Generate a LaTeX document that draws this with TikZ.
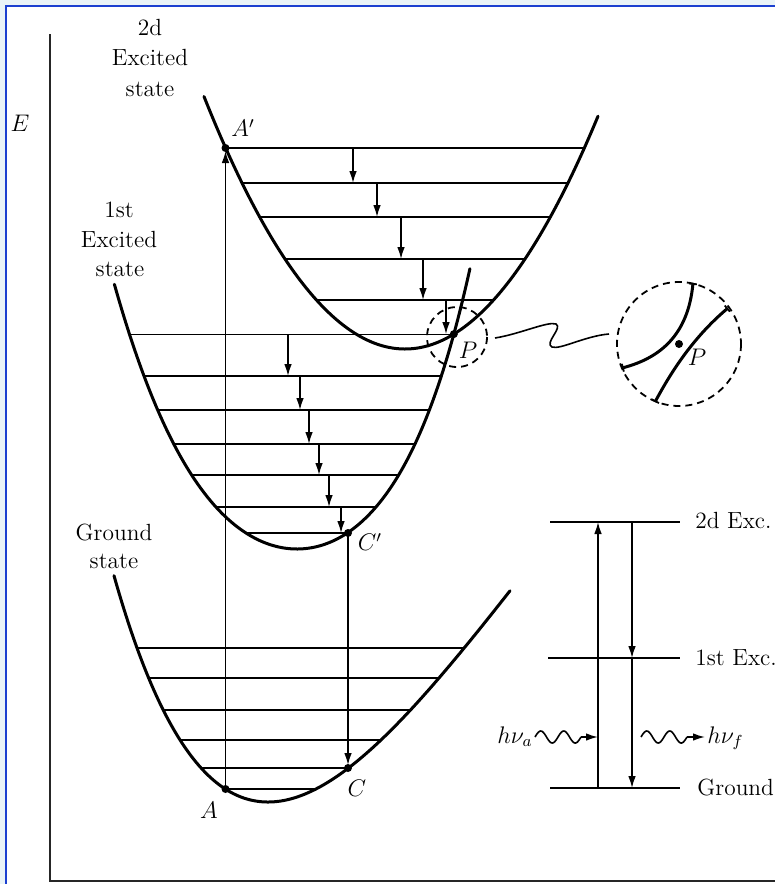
\documentclass[tikz,border=0pt]{standalone}
\usepackage{fontspec}
\usetikzlibrary{arrows.meta,intersections}
\definecolor{framebg}{RGB}{234,244,248}
\definecolor{frameblue}{RGB}{28,64,208}
\begin{document}
\begin{tikzpicture}[x=0.5pt,y=-0.5pt,
  lbl/.style={font=\fontsize{11.7}{14}\selectfont, inner sep=0pt},
  curve/.style={line width=1.5pt, line cap=round, line join=round},
  level/.style={line width=0.55pt},
  thicklevel/.style={line width=1.2pt},
  drop/.style={line width=0.7pt, -{Latex[length=6pt,width=3.8pt]}},
  trans/.style={line width=0.7pt, -{Latex[length=6pt,width=3.8pt]}},
  dotmark/.style={fill=black},
  dashcirc/.style={line width=0.9pt, dash pattern=on 3.5pt off 2.5pt},
  wave/.style={line width=0.8pt},
  ]
\useasboundingbox (0,0) rectangle (775,884);
\fill[framebg] (-5,-5) rectangle (780,890);
\fill[white] (6,6) rectangle (780,890);
\draw[frameblue, line width=1pt] (5.5,890) -- (5.5,5.5) -- (780,5.5);

% axis
\coordinate (Etop) at (50,34);
\coordinate (Ocorner) at (50,881);
\coordinate (Eright) at (780,881);
\draw[line width=1pt, black!85] (Etop) -- (Ocorner) -- (Eright);
\node[lbl] (Elbl) at (20,123) {$E$};

% state labels
\node[lbl, anchor=base] (s2a) at (150,35) {2d};
\node[lbl, anchor=base] (s2b) at (150,65) {Excited};
\node[lbl, anchor=base] (s2c) at (150,96) {state};
\node[lbl, anchor=base] (s1a) at (119,217) {1st};
\node[lbl, anchor=base] (s1b) at (119,247) {Excited};
\node[lbl, anchor=base] (s1c) at (120,276) {state};
\node[lbl, anchor=base] (s0a) at (114,540) {Ground};
\node[lbl, anchor=base] (s0b) at (114,568) {state};

% potential curve paths (for intersection)
\path[name path=c2] plot[domain=204:598, samples=160] (\x, {349-((\x-405)/10)^2/1.6});
\path[name path=c1] plot[domain=-1.76:1.80, samples=160]
  ({297-0.025*(60.4*\x*\x+8.09*\x*\x*\x*\x)+100*\x}, {549-(60.4*\x*\x+8.09*\x*\x*\x*\x)});
\path[name intersections={of=c2 and c1, by=P}];

% key points
\coordinate (Ap) at (225.5,148);
\coordinate (A) at (225.5,789);
\coordinate (Cp) at (348,533);
\coordinate (C) at (348,768);
\coordinate (L1left) at (130,0);

% vibrational levels: 2d excited
\draw[level] (Ap) -- (584.3,148);
\draw[level] (242,183) -- (568,183);
\draw[level] (259.7,217) -- (550.3,217);
\draw[level] (285,259) -- (525,259);
\draw[level] (316.5,300) -- (493.5,300);
% 1st excited
\draw[level] (P -| L1left) -- (P);
\draw[level] (144,376) -- (441.4,376);
\draw[level] (157.7,410) -- (429.3,410);
\draw[level] (173.8,444) -- (415,444);
\draw[level] (191.6,475) -- (398.7,475);
\draw[level] (215.9,507) -- (376,507);
\draw[level] (246,533) -- (Cp);
% ground
\draw[level] (136.9,648) -- (464.3,648);
\draw[level] (148.5,678) -- (439,678);
\draw[level] (163.1,710) -- (410.6,710);
\draw[level] (180,740) -- (381,740);
\draw[level] (201,768) -- (C);
\draw[level] (A) -- (315.8,789);

% relaxation arrows 2d excited
\draw[drop] (353,148) -- (353,183);
\draw[drop] (377,183) -- (377,217);
\draw[drop] (401,217) -- (401,259);
\draw[drop] (423,259) -- (423,300);
\coordinate (d5) at (446,300);
\draw[drop] (d5) -- (d5 |- P);
% relaxation arrows 1st excited
\coordinate (e1) at (288,376);
\draw[drop] (e1 |- P) -- (e1);
\draw[drop] (300,376) -- (300,410);
\draw[drop] (309,410) -- (309,444);
\draw[drop] (319,444) -- (319,475);
\draw[drop] (329,475) -- (329,507);
\draw[drop] (341,507) -- (341,533);

% vertical transitions
\draw[trans, shorten >=1.5pt] (A) -- (Ap);
\draw[trans, shorten >=1.5pt] (Cp) -- (C);

% potential curves
\draw[curve] plot[domain=204:598, samples=160] (\x, {349-((\x-405)/10)^2/1.6});
\draw[curve] plot[domain=-1.76:1.80, samples=160]
  ({297-0.025*(60.4*\x*\x+8.09*\x*\x*\x*\x)+100*\x}, {549-(60.4*\x*\x+8.09*\x*\x*\x*\x)});
\draw[curve] plot[domain=114:510, samples=160] (\x, {802-1024*(1-exp(-0.0025*(\x-268)))^2});

% dots
\fill[dotmark] (Ap) circle[radius=4];
\fill[dotmark] (A) circle[radius=4];
\fill[dotmark] (Cp) circle[radius=4];
\fill[dotmark] (C) circle[radius=4];
\fill[dotmark] (P) circle[radius=4];

% point labels
\node[lbl] (lAp) at (243,128) {$A'$};
\node[lbl] (lA) at (209,810) {$A$};
\node[lbl] (lCp) at (370,542) {$C'$};
\node[lbl] (lC) at (357,788) {$C$};
\node[lbl] (lP) at (468,350) {$P$};

% magnifier
\coordinate (Mc) at (457,337);
\coordinate (Zc) at (679,344);
\draw[dashcirc] (Mc) circle[radius=30];
\draw[dashcirc] (Zc) circle[radius=62];
\coordinate (sqA) at (495,338);
\coordinate (sqB) at (609,334);
\draw[line width=0.8pt] (sqA) .. controls (520,334) and (548,321) .. (556,324) .. controls (563,328) and (544,343) .. (552,347) .. controls (560,350) and (585,336) .. (sqB);
\draw[line width=1.5pt, {Bar[width=4pt,line width=0.9pt]}-{Bar[width=4pt,line width=0.9pt]}] (622,368) .. controls (660,358) and (688,335) .. (693,283);
\draw[line width=1.5pt, {Bar[width=4pt,line width=0.9pt]}-{Bar[width=4pt,line width=0.9pt]}] (655,402) .. controls (668,378) and (690,340) .. (728,308);
\fill[dotmark] (Zc) circle[radius=4];
\node[lbl] (lPz) at (697,357) {$P$};

% energy level scheme
\coordinate (L2a) at (550,522); \coordinate (L2b) at (680,522);
\coordinate (L1a) at (548,658); \coordinate (L1b) at (680,658);
\coordinate (L0a) at (550,788); \coordinate (L0b) at (680,788);
\draw[thicklevel] (L2a) -- (L2b);
\draw[thicklevel] (L1a) -- (L1b);
\draw[thicklevel] (L0a) -- (L0b);
\node[lbl, anchor=base west] (t2) at (695,528) {2d Exc.};
\node[lbl, anchor=base west] (t1) at (695,665) {1st Exc.};
\node[lbl, anchor=base west] (t0) at (697,795) {Ground};
\coordinate (upB) at (598,788); \coordinate (upT) at (598,522);
\coordinate (dnT) at (632,522); \coordinate (dnM) at (632,658); \coordinate (dnB) at (632,788);
\draw[trans] (upB) -- (upT);
\draw[trans] (dnT) -- (dnM);
\draw[trans] (dnM) -- (dnB);
% photons
\coordinate (waTip) at (598,737);
\coordinate (wfTip) at (705,737);
\draw[wave] plot[domain=0:2, samples=60, smooth] ({535+23*\x},{737-6*sin(360*\x)});
\draw[wave, -{Latex[length=6pt,width=3.8pt]}] (581,737) -- (waTip);
\draw[wave] plot[domain=0:2, samples=60, smooth] ({641+23*\x},{737-6*sin(360*\x)});
\draw[wave, -{Latex[length=6pt,width=3.8pt]}] (687,737) -- (wfTip);
\node[lbl, anchor=base west] (hva) at (497,743) {$h\nu_a$};
\node[lbl, anchor=base west] (hvf) at (707,743) {$h\nu_f$};
\end{tikzpicture}
\end{document}
